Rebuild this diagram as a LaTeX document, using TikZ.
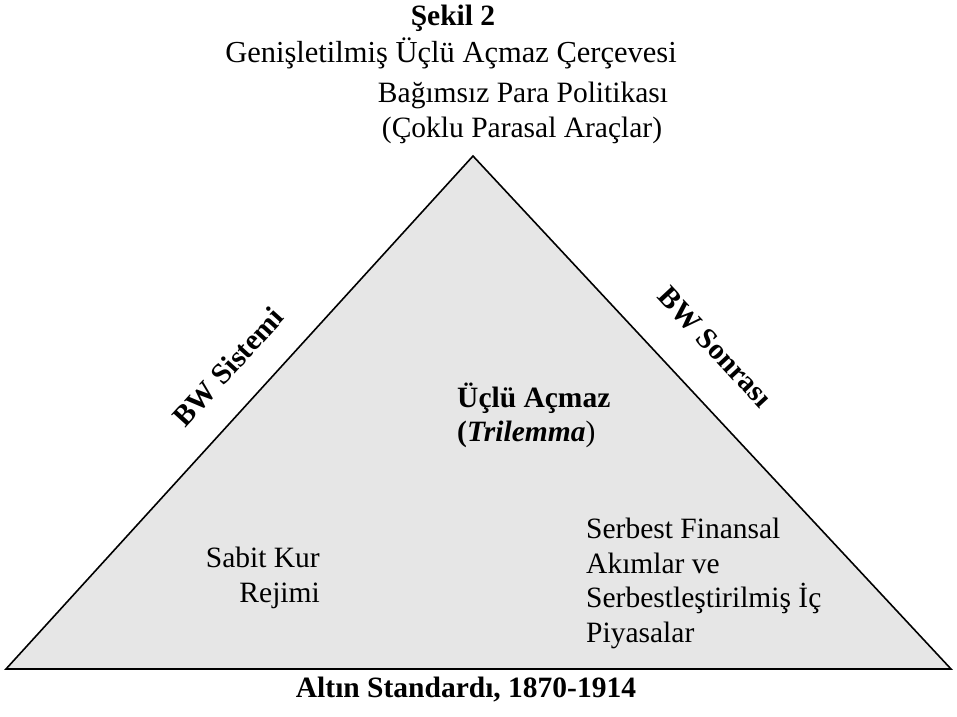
\documentclass[tikz,border=0pt]{standalone}
\usepackage{fontspec}
\setmainfont{Liberation Serif}
\definecolor{triFill}{RGB}{230,230,230}
\tikzset{
  txt/.style={inner sep=0pt, font=\fontsize{29.5}{34}\selectfont},
  btxt/.style={inner sep=0pt, font=\fontsize{29.5}{34}\selectfont\bfseries},
  ttxt/.style={inner sep=0pt, font=\fontsize{30.5}{35}\selectfont},
  edge/.style={draw=black, line width=1.6pt, line join=miter}
}
\begin{document}
\begin{tikzpicture}[x=1pt,y=-1pt]
  \useasboundingbox (0,0) rectangle (957,716);

  % corners of the triangle
  \coordinate (A) at (473,156);
  \coordinate (L) at (6,669);
  \coordinate (R) at (951,669);
  \path[edge, fill=triFill] (A) -- (L) -- (R) -- cycle;

  % heading
  \node[btxt, anchor=base] (sekil) at (453,25) {Şekil 2};
  \node[ttxt, anchor=base] (title) at (451,62) {Genişletilmiş Üçlü Açmaz Çerçevesi};

  % apex label
  \node[txt, anchor=base] (pol1) at (523,102) {Bağımsız Para Politikası};
  \node[txt, anchor=base] (pol2) at (522,137) {(Çoklu Parasal Araçlar)};

  % side labels
  \node[btxt, rotate=47.7] (bws) at (228,367) {BW Sistemi};
  \node[btxt, rotate=-47.1] (bwn) at (715,347) {BW Sonrası};

  % centre label
  \node[btxt, anchor=base west] (tri1) at (457,407) {Üçlü Açmaz};
  \node[txt, anchor=base west] (tri2) at (457,441) {{\bfseries(\itshape Trilemma})};

  % left corner label
  \node[txt, anchor=base east] (sab1) at (320,567) {Sabit Kur};
  \node[txt, anchor=base east] (sab2) at (320,602) {Rejimi};

  % right corner label
  \node[txt, anchor=base west] (ser1) at (586,538) {Serbest Finansal};
  \node[txt, anchor=base west] (ser2) at (586,573) {Akımlar ve};
  \node[txt, anchor=base west] (ser3) at (586,607) {Serbestleştirilmiş İç};
  \node[txt, anchor=base west] (ser4) at (586,642) {Piyasalar};

  % base label
  \node[btxt, anchor=base] (gold) at (466,697) {Altın Standardı, 1870-1914};
\end{tikzpicture}
\end{document}
